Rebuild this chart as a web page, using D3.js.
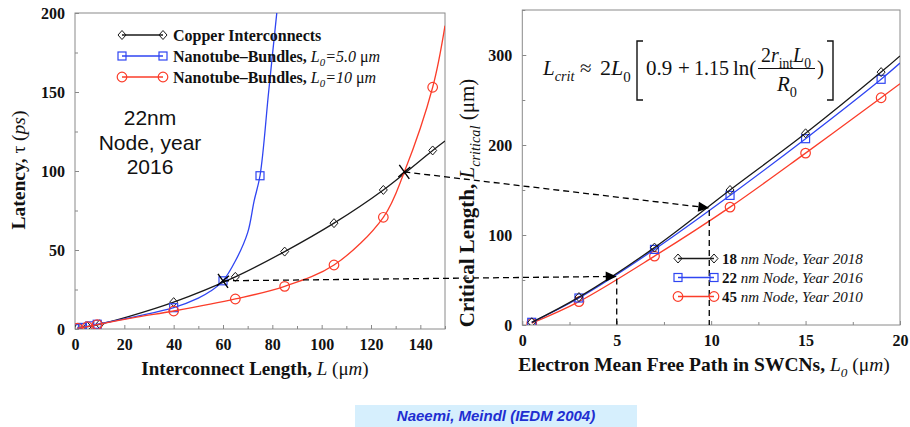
<!DOCTYPE html>
<html>
<head>
<meta charset="utf-8">
<script src="https://cdn.jsdelivr.net/npm/d3@7"></script>
<style>
  body { margin: 0; background: #fff; }
  svg text { font-family: "Liberation Serif", "Times New Roman", serif; fill: #111; }
</style>
</head>
<body>
<svg id="chart" width="910" height="427"></svg>
<script>
// ---- left panel: latency vs interconnect length (22nm node) ----
const copperMarkL = [1, 5, 10, 40, 65, 85, 105, 125, 145];
const copperMarkT = [0.5, 1.5, 3, 17, 33, 49, 67, 88, 113];
const copperLineL = [1, 5, 10, 22, 40, 65, 85, 105, 125, 145, 150];
const copperLineT = [0.5, 1.5, 3, 8, 17, 33, 49, 67, 88, 113, 119];

const cnt5MarkL = [1, 3, 6, 9, 40, 60, 75];
const cnt5MarkT = [0.5, 1, 2, 3, 13.5, 30.5, 97];
const cnt5LineL = [1, 3, 6, 9, 25, 40, 50, 55, 60, 65, 70, 72.6, 75, 78.5, 82, 84];
const cnt5LineT = [0.5, 1, 2, 3, 8, 13.5, 19.5, 24, 30.5, 43, 61, 81, 97, 150, 203, 232];

const cnt10MarkL = [1, 5, 9, 40, 65, 85, 105, 125, 145];
const cnt10MarkT = [0.5, 1.5, 2.8, 11.4, 19, 27, 40.5, 70.7, 153];
const cnt10LineL = [1, 5, 9, 25, 40, 65, 85, 105, 125, 133.5, 145, 150];
const cnt10LineT = [0.5, 1.5, 2.8, 7.5, 11.4, 19, 27, 40.5, 70.7, 99.4, 153, 192];

const leftXTicks = d3.range(0, 151, 10);
const leftYTicks = d3.range(0, 201, 25);

// ---- right panel: critical length vs mean free path ----
const mfpMark = [0.5, 3, 7, 11, 15, 19];
const mfpLine = [0.5, 3, 7, 11, 15, 19, 20];
const crit18 = [3, 31, 86, 150, 213, 281, 299];
const crit22 = [3, 30, 84, 144, 207, 273, 291];
const crit45 = [2, 26, 76.5, 131, 191, 252.5, 268];

const rightXTicks = d3.range(0, 20.01, 2.5);
const rightYTicks = d3.range(0, 351, 50);

// crossing points and where they map on the right panel
const crossings = [{ L: 60, t: 30.5, L0: 5, crit: 54 }, { L: 133.5, t: 99.4, L0: 9.9, crit: 130 }];

const BLACK = '#1a1a1a', BLUE = '#2f45f2', RED = '#fb3d2a';
const SANS = '"Liberation Sans", Arial, sans-serif';

const svg = d3.select('#chart');

const xL = d3.scaleLinear([0, 150], [75, 445]);
const yL = d3.scaleLinear([0, 200], [329, 13]);
const xR = d3.scaleLinear([0, 20], [522.3, 900]);
const yR = d3.scaleLinear([0, 350], [325, 10]);

const rich = (g, x, y, parts, size, anchor) => {
  const t = g.append('text').attr('x', x).attr('y', y)
    .attr('font-size', size).attr('text-anchor', anchor || 'start');
  let shift = 0;
  parts.forEach(([txt, st]) => {
    const sp = t.append('tspan').text(txt);
    if (st.includes('b')) sp.attr('font-weight', 'bold');
    if (st.includes('i')) sp.attr('font-style', 'italic');
    const target = st.includes('s') ? size * 0.3 : 0;
    if (target !== shift) { sp.attr('dy', target - shift); shift = target; }
    if (st.includes('s')) sp.attr('font-size', size * 0.68);
  });
  return t;
};

const marker = (g, kind, x, y, color) => {
  if (kind === 'diamond') {
    g.append('path').attr('d', `M${x} ${y - 4.5}L${x + 4} ${y}L${x} ${y + 4.5}L${x - 4} ${y}Z`)
      .attr('fill', 'none').attr('stroke', color).attr('stroke-width', 1);
  } else if (kind === 'square') {
    g.append('rect').attr('x', x - 4).attr('y', y - 4).attr('width', 8).attr('height', 8)
      .attr('fill', 'none').attr('stroke', color).attr('stroke-width', 1.2);
  } else {
    g.append('circle').attr('cx', x).attr('cy', y).attr('r', 4.8)
      .attr('fill', 'none').attr('stroke', color).attr('stroke-width', 1.2);
  }
};

const frame = (x, y, xTicks, xMajor, yTicks, yMajor, id) => {
  const [x0, x1] = x.range(), [y1, y0] = y.range();
  const isMajor = d => Math.abs(d / xMajor - Math.round(d / xMajor)) < 1e-6;
  const gx = svg.append('g').attr('transform', `translate(0,${y1})`)
    .call(d3.axisBottom(x).tickValues(xTicks).tickSizeInner(-4).tickSizeOuter(0)
      .tickFormat(d => (isMajor(d) ? d : '')));
  gx.select('.domain').remove();
  gx.selectAll('.tick line').attr('stroke', '#888').attr('y2', d => (isMajor(d) ? -4 : -3));
  gx.selectAll('.tick text').attr('dy', null).attr('y', 21)
    .attr('font-size', 16).attr('font-weight', 'bold');

  const gy = svg.append('g').attr('transform', `translate(${x0},0)`)
    .call(d3.axisLeft(y).tickValues(yTicks).tickSizeInner(-4).tickSizeOuter(0).tickPadding(10)
      .tickFormat(d => (d % yMajor === 0 ? d : '')));
  gy.select('.domain').remove();
  gy.selectAll('.tick line').attr('stroke', '#888').attr('x2', d => (d % yMajor === 0 ? 4 : 3));
  gy.selectAll('.tick text').attr('font-size', 16).attr('font-weight', 'bold').attr('dy', '0.34em');

  svg.append('rect').attr('x', x0).attr('y', y0).attr('width', x1 - x0).attr('height', y1 - y0)
    .attr('fill', 'none').attr('stroke', '#8a8a8a').attr('stroke-width', 1);

  svg.append('clipPath').attr('id', id).append('rect')
    .attr('x', x0).attr('y', y0).attr('width', x1 - x0).attr('height', y1 - y0);
};

frame(xL, yL, leftXTicks, 20, leftYTicks, 50, 'clipL');
frame(xR, yR, rightXTicks, 5, rightYTicks, 100, 'clipR');

const curve = d3.curveCatmullRom.alpha(0.5);

// left series
const leftG = svg.append('g').attr('clip-path', 'url(#clipL)');
const leftSeries = [
  { lx: copperLineL, ly: copperLineT, mx: copperMarkL, my: copperMarkT, color: BLACK, kind: 'diamond' },
  { lx: cnt5LineL, ly: cnt5LineT, mx: cnt5MarkL, my: cnt5MarkT, color: BLUE, kind: 'square' },
  { lx: cnt10LineL, ly: cnt10LineT, mx: cnt10MarkL, my: cnt10MarkT, color: RED, kind: 'circle' },
];
leftSeries.forEach(s => {
  leftG.append('path')
    .attr('d', d3.line().curve(curve).x((d, i) => xL(s.lx[i])).y(d => yL(d))(s.ly))
    .attr('fill', 'none').attr('stroke', s.color).attr('stroke-width', 1.3);
  s.mx.forEach((v, i) => marker(leftG, s.kind, xL(v), yL(s.my[i]), s.color));
});

// right series
const rightG = svg.append('g').attr('clip-path', 'url(#clipR)');
const rightSeries = [
  { y: crit45, color: RED, kind: 'circle' },
  { y: crit22, color: BLUE, kind: 'square' },
  { y: crit18, color: BLACK, kind: 'diamond' },
];
rightSeries.forEach(s => {
  rightG.append('path')
    .attr('d', d3.line().curve(curve).x((d, i) => xR(mfpLine[i])).y(d => yR(d))(s.y))
    .attr('fill', 'none').attr('stroke', s.color).attr('stroke-width', 1.3);
  mfpMark.forEach((v, i) => marker(rightG, s.kind, xR(v), yR(s.y[i]), s.color));
});

// crossings, dashed arrows
crossings.forEach(c => {
  const sx = xL(c.L), sy = yL(c.t), ex = xR(c.L0), ey = yR(c.crit);
  const ang = Math.atan2(ey - sy, ex - sx);
  const back = 10;
  svg.append('line').attr('x1', sx).attr('y1', sy)
    .attr('x2', ex - back * Math.cos(ang)).attr('y2', ey - back * Math.sin(ang))
    .attr('stroke', '#000').attr('stroke-width', 1.3).attr('stroke-dasharray', '6,4');
  svg.append('path')
    .attr('d', 'M0 0L-11 -5L-11 5Z')
    .attr('transform', `translate(${ex},${ey}) rotate(${ang * 180 / Math.PI})`)
    .attr('fill', '#000');
  svg.append('line').attr('x1', ex).attr('y1', ey + 2).attr('x2', ex).attr('y2', yR(0))
    .attr('stroke', '#000').attr('stroke-width', 1.3).attr('stroke-dasharray', '6,4');
  svg.append('path')
    .attr('d', `M${sx - 5} ${sy - 7}L${sx + 5} ${sy + 7}M${sx + 6} ${sy - 5}L${sx - 6} ${sy + 5}`)
    .attr('stroke', '#000').attr('stroke-width', 1.4);
});

// left legend
const legL = [
  { kind: 'diamond', color: BLACK, parts: [['Copper Interconnects', 'b']] },
  { kind: 'square', color: BLUE, parts: [['Nanotube\u2013Bundles, ', 'b'], ['L', 'i'], ['0', 'is'], ['=5.0 ', 'i'], ['\u03bc', ''], ['m', 'i']] },
  { kind: 'circle', color: RED, parts: [['Nanotube\u2013Bundles, ', 'b'], ['L', 'i'], ['0', 'is'], ['=10 ', 'i'], ['\u03bc', ''], ['m', 'i']] },
];
legL.forEach((d, i) => {
  const y = 35 + i * 21;
  svg.append('line').attr('x1', 122).attr('x2', 163).attr('y1', y).attr('y2', y)
    .attr('stroke', d.color).attr('stroke-width', 1.3);
  marker(svg, d.kind, 122, y, d.color);
  marker(svg, d.kind, 163, y, d.color);
  rich(svg, 173, y + 5.5, d.parts, 16);
});

// right legend
const legR = [
  { kind: 'diamond', color: BLACK, parts: [['18', 'b'], [' nm Node, Year 2018', 'i']] },
  { kind: 'square', color: BLUE, parts: [['22', 'b'], [' nm Node, Year 2016', 'i']] },
  { kind: 'circle', color: RED, parts: [['45', 'b'], [' nm Node, Year 2010', 'i']] },
];
legR.forEach((d, i) => {
  const y = 258.5 + i * 19;
  svg.append('line').attr('x1', 678).attr('x2', 714).attr('y1', y).attr('y2', y)
    .attr('stroke', d.color).attr('stroke-width', 1.3);
  marker(svg, d.kind, 678, y, d.color);
  marker(svg, d.kind, 714, y, d.color);
  rich(svg, 722, y + 5, d.parts, 15);
});

// node annotation
['22nm', 'Node, year', '2016'].forEach((t, i) => {
  svg.append('text').attr('x', 150).attr('y', 125 + i * 24.5).attr('text-anchor', 'middle')
    .attr('font-size', 21).style('font-family', SANS).text(t);
});

// axis titles
rich(svg, 255, 375, [['Interconnect Length, ', 'b'], ['L', 'i'], [' (', ''], ['\u03bc', ''], ['m', 'i'], [')', '']], 19, 'middle');
rich(svg, 704, 371, [['Electron Mean Free Path in SWCNs, ', 'b'], ['L', 'i'], ['0', 'is'], [' (', ''], ['\u03bc', ''], ['m', 'i'], [')', '']], 19.5, 'middle');
rich(svg, 0, 0, [['Latency, ', 'b'], ['\u03c4', ''], [' (', ''], ['ps', 'i'], [')', '']], 19.5, 'middle')
  .attr('transform', 'translate(25,170) rotate(-90)');
rich(svg, 0, 0, [['Critical Length, ', 'b'], ['L', 'i'], ['critical', 'is'], [' (\u03bcm)', '']], 21, 'middle')
  .attr('transform', 'translate(474,203) rotate(-90)');

// formula
const fg = svg.append('g');
rich(fg, 543, 75, [['L', 'i'], ['crit', 'is']], 21);
rich(fg, 580, 75, [['\u2248', '']], 21);
rich(fg, 600, 75, [['2', ''], ['L', 'i'], ['0', 's']], 22);
fg.append('path').attr('d', 'M643 41H637V100H643').attr('fill', 'none').attr('stroke', '#111').attr('stroke-width', 1.4);
rich(fg, 646, 75, [['0.9', '']], 21);
rich(fg, 678, 75, [['+', '']], 21);
rich(fg, 694, 75, [['1.15', '']], 20);
rich(fg, 733, 75, [['ln(', '']], 21);
rich(fg, 786, 62, [['2', ''], ['r', 'i'], ['int', 's'], ['L', 'i'], ['0', 's']], 20, 'middle');
fg.append('line').attr('x1', 758).attr('x2', 815).attr('y1', 68.5).attr('y2', 68.5).attr('stroke', '#111').attr('stroke-width', 1);
rich(fg, 787, 91, [['R', 'i'], ['0', 's']], 21, 'middle');
rich(fg, 817, 75, [[')', '']], 21);
fg.append('path').attr('d', 'M827 41H833V100H827').attr('fill', 'none').attr('stroke', '#111').attr('stroke-width', 1.4);

// citation
svg.append('rect').attr('x', 355).attr('y', 405).attr('width', 282).attr('height', 22).attr('fill', '#d6effd');
svg.append('text').attr('x', 496).attr('y', 421).attr('text-anchor', 'middle')
  .style('font-family', SANS).attr('font-size', 15)
  .attr('font-weight', 'bold').attr('font-style', 'italic').style('fill', '#1f2ed1')
  .text('Naeemi, Meindl (IEDM 2004)');
</script>
</body>
</html>
